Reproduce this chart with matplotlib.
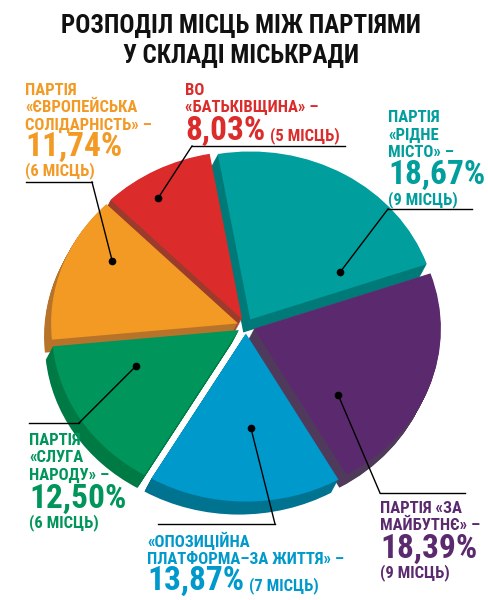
import matplotlib.pyplot as plt
from matplotlib import font_manager as fm
import numpy as np

# seats of the city council, clockwise from the top
shares = [18.67, 18.39, 13.87, 12.50, 11.74, 8.03]
seats = [9, 9, 7, 6, 6, 5]
names = [
    ['ПАРТІЯ', '«РІДНЕ', 'МІСТО» –'],
    ['ПАРТІЯ «ЗА', 'МАЙБУТНЄ» –'],
    ['«ОПОЗИЦІЙНА', 'ПЛАТФОРМА–ЗА ЖИТТЯ» –'],
    ['ПАРТІЯ', '«СЛУГА', 'НАРОДУ» –'],
    ['ПАРТІЯ', '«ЄВРОПЕЙСЬКА', 'СОЛІДАРНІСТЬ» –'],
    ['ВО', '«БАТЬКІВЩИНА» –'],
]
colors = ['#009e9c', '#5b2a6e', '#0099cb', '#00955a', '#f39a25', '#db2b2b']
dark = ['#007a78', '#4f3a5c', '#007391', '#007a45', '#b8732a', '#9b3b2b']

# look for a condensed bold face, otherwise fall back to Roboto
cond = [f for f in fm.fontManager.ttflist
        if f.weight in ('bold', 700)
        and ('Condensed' in f.name or 'Narrow' in f.name or f.stretch == 'condensed')
        and 'Mono' not in f.name and 'Serif' not in f.name]
if cond:
    cond.sort(key=lambda f: ('Roboto' not in f.name, 'Liberation' not in f.name))
    FP = dict(fontproperties=fm.FontProperties(fname=cond[0].fname))
    SCALE = 1.0
else:
    FP = dict(family=['Roboto', 'DejaVu Sans'], fontweight='bold')
    SCALE = 0.82

W, H = 488, 600
CX, CY = 246, 326      # pie centre (pixels, from top-left)
RX, RY = 187, 168      # pie radii (pixels)


def px(x, y):
    return (x - CX) / RX, (CY - y) / RY


def txt(x, y, s, size, color, ha='left'):
    t = ax.text(*px(x, y), s, ha=ha, va='baseline', color=color, **FP)
    t.set_fontsize(size * SCALE)
    return t


fig = plt.figure(figsize=(W / 100, H / 100), dpi=100)
ax = fig.add_axes([0, 0, 1, 1])

explode = [0.045] * len(shares)
depth = np.array([-7 / RX, -13 / RY])
for k in np.linspace(1, 0, 16)[:-1]:
    ax.pie(shares, colors=dark, explode=explode, startangle=100,
           counterclock=False, center=tuple(k * depth),
           wedgeprops=dict(linewidth=0))
wedges, _ = ax.pie(shares, colors=colors, explode=explode, startangle=100,
                   counterclock=False, wedgeprops=dict(linewidth=0))

ax.set_xlim(px(0, 0)[0], px(W, 0)[0])
ax.set_ylim(px(0, H)[1], px(0, 0)[1])
ax.set_aspect('auto')
ax.axis('off')

# title
txt(241, 33, 'РОЗПОДІЛ МІСЦЬ МІЖ ПАРТІЯМИ', 18, '#111111', ha='center')
txt(241, 63, 'У СКЛАДІ МІСЬКРАДИ', 18, '#111111', ha='center')

# label layout: text x, first baseline, percent baseline, seats (x, baseline,
# inline?), leader horizontal (x0, x1, y, corner at x0/x1), dot (angle, radius)
layout = [
    dict(x=388, y0=122, pct=184, seat=(388, 204, 0), hl=(388, 472, 209, 0), dot=(0.14, 0.56)),
    dict(x=380, y0=513, pct=558, seat=(380, 577, 0), hl=(380, 465, 493, 0), dot=(0.24, 0.60)),
    dict(x=147, y0=547, pct=590, seat=(252, 590, 1), hl=(158, 275, 524, 1), dot=(0.55, 0.56)),
    dict(x=29, y0=445, pct=508, seat=(29, 527, 0), hl=(29, 79, 423, 1), dot=(0.29, 0.59)),
    dict(x=25, y0=95, pct=156, seat=(25, 175, 0), hl=(26, 92, 182, 1), dot=(0.32, 0.77)),
    dict(x=185, y0=95, pct=140, seat=(272, 140, 1), hl=(192, 345, 146, 0), dot=(0.63, 0.85)),
]

fig.canvas.draw()
renderer = fig.canvas.get_renderer()

for w, nm, sh, st, c, lay in zip(wedges, names, shares, seats, colors, layout):
    for i, line in enumerate(nm):
        txt(lay['x'], lay['y0'] + i * 17.5, line, 12, c)
    p = txt(lay['x'], lay['pct'], f'{sh:.2f}%'.replace('.', ','), 24, c)
    sx, sy, inline = lay['seat']
    if inline:
        sx = p.get_window_extent(renderer).x1 + 5
    txt(sx, sy, f'({st} МІСЦЬ)', 12, c)

    # leader from the wedge to the label
    fa, fr = lay['dot']
    ang = np.deg2rad(w.theta1 + fa * (w.theta2 - w.theta1))
    dx = w.center[0] + fr * w.r * np.cos(ang)
    dy = w.center[1] + fr * w.r * np.sin(ang)
    x0, x1, yh, side = lay['hl']
    cx, cy = px(x1 if side else x0, yh)
    hx0, hy = px(x0, yh)
    hx1, _ = px(x1, yh)
    ax.plot([dx, cx], [dy, cy], color='black', lw=1)
    ax.plot([hx0, hx1], [hy, hy], color='black', lw=1)
    ax.plot(dx, dy, 'o', color='black', markersize=4.5)

fig.savefig('out.png', dpi=100)
